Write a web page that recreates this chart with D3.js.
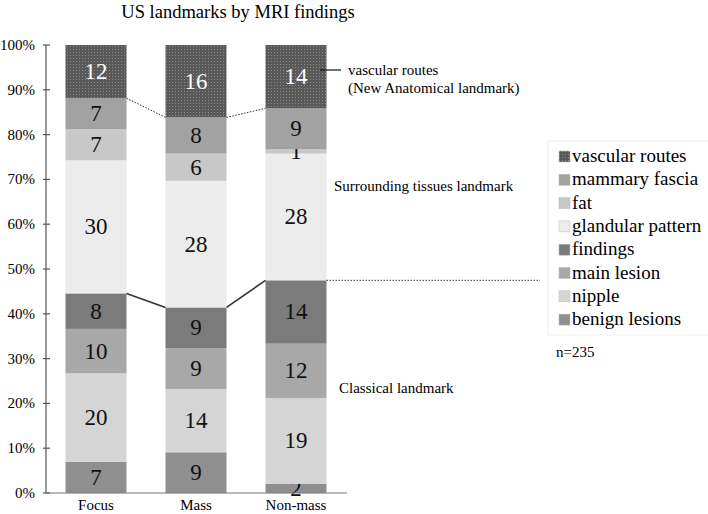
<!DOCTYPE html>
<html>
<head>
<meta charset="utf-8">
<script src="https://cdn.jsdelivr.net/npm/d3@7"></script>
<style>
  body { margin: 0; background: #fff; }
  svg text { font-family: "Liberation Serif", "Times New Roman", "DejaVu Serif", serif; }
</style>
</head>
<body>
<svg id="chart" width="708" height="514" font-family="Liberation Serif, serif"></svg>
<script>
// categories and series (bottom to top)
const categories = ["Focus", "Mass", "Non-mass"];
const seriesNames = ["benign lesions", "nipple", "main lesion", "findings",
                     "glandular pattern", "fat", "mammary fascia", "vascular routes"];
const benignLesions   = [7, 9, 2];
const nipple          = [20, 14, 19];
const mainLesion      = [10, 9, 12];
const findings        = [8, 9, 14];
const glandular       = [30, 28, 28];
const fat             = [7, 6, 1];
const mammaryFascia   = [7, 8, 9];
const vascularRoutes  = [12, 16, 14];
const yTicks = [0, 0.1, 0.2, 0.3, 0.4, 0.5, 0.6, 0.7, 0.8, 0.9, 1];

const seriesValues = [benignLesions, nipple, mainLesion, findings,
                      glandular, fat, mammaryFascia, vascularRoutes];
const colors = ["#8f8f8f", "#d5d5d5", "#a8a8a8", "#7b7b7b",
                "#ececec", "#c8c8c8", "#a2a2a2", "url(#dots)"];

const svg = d3.select("#chart");

// dotted texture for vascular routes
const pat = svg.append("defs").append("pattern")
    .attr("id", "dots").attr("patternUnits", "userSpaceOnUse")
    .attr("width", 3).attr("height", 3);
pat.append("rect").attr("width", 3).attr("height", 3).attr("fill", "#595959");
pat.append("rect").attr("x", 1).attr("y", 1).attr("width", 1).attr("height", 1).attr("fill", "#8c8c8c");

const table = categories.map((c, i) => {
    const row = { cat: c };
    let total = 0;
    seriesNames.forEach((s, k) => total += seriesValues[k][i]);
    seriesNames.forEach((s, k) => row[s] = seriesValues[k][i] / total);
    seriesNames.forEach((s, k) => row[s + "_n"] = seriesValues[k][i]);
    return row;
});
const stacked = d3.stack().keys(seriesNames)(table);

const x = d3.scaleBand().domain(categories).range([46, 346]).paddingInner(0.39).paddingOuter(0.195);
const y = d3.scaleLinear().domain([0, 1]).range([493, 45]);

// title
svg.append("text").attr("x", 238).attr("y", 18).attr("text-anchor", "middle")
    .attr("font-size", 18.5).text("US landmarks by MRI findings");

// bars
stacked.forEach((layer, k) => {
    svg.append("g").selectAll("rect")
        .data(layer)
        .enter()
        .append("rect")
        .attr("x", d => x(d.data.cat))
        .attr("y", d => y(d[1]))
        .attr("width", x.bandwidth())
        .attr("height", d => y(d[0]) - y(d[1]))
        .attr("fill", colors[k]);

    svg.append("g").selectAll("text")
        .data(layer)
        .enter()
        .append("text")
        .attr("x", d => x(d.data.cat) + x.bandwidth() / 2)
        .attr("y", d => (y(d[0]) + y(d[1])) / 2 + 7.5)
        .attr("text-anchor", "middle")
        .attr("font-size", 23)
        .attr("fill", k === 7 ? "#fff" : "#111")
        .text(d => d.data[layer.key + "_n"]);
});

// connector lines between bars
const connect = (key, dash) => {
    const layer = stacked.find(l => l.key === key);
    for (let i = 0; i < layer.length - 1; i++) {
        const a = layer[i], b = layer[i + 1];
        svg.append("line")
            .attr("x1", x(a.data.cat) + x.bandwidth()).attr("y1", y(a[1]))
            .attr("x2", x(b.data.cat)).attr("y2", y(b[1]))
            .attr("stroke", "#333").attr("stroke-width", dash ? 1 : 1.6)
            .attr("stroke-dasharray", dash ? "1.5,1.5" : null);
    }
};
connect("mammary fascia", true);
connect("findings", false);

// dotted line from non-mass findings toward legend
const nm = stacked.find(l => l.key === "findings")[2];
svg.append("line")
    .attr("x1", x("Non-mass") + x.bandwidth()).attr("y1", y(nm[1]))
    .attr("x2", 540).attr("y2", y(nm[1]))
    .attr("stroke", "#333").attr("stroke-dasharray", "1.5,1.5");

// axes
const yAxis = svg.append("g");
yAxis.append("line").attr("x1", 46).attr("x2", 46).attr("y1", y(1)).attr("y2", y(0))
    .attr("stroke", "#555").attr("stroke-width", 1.2);
yAxis.selectAll(".tick").data(yTicks).enter().append("line")
    .attr("x1", 43).attr("x2", 50).attr("y1", d => y(d)).attr("y2", d => y(d))
    .attr("stroke", "#555").attr("stroke-width", 1.2);
yAxis.selectAll("text").data(yTicks).enter().append("text")
    .attr("x", 35).attr("y", d => y(d) + 5).attr("text-anchor", "end")
    .attr("font-size", 15).text(d => d3.format(".0%")(d));

svg.append("line").attr("x1", 46).attr("x2", 347).attr("y1", y(0)).attr("y2", y(0))
    .attr("stroke", "#777").attr("stroke-width", 1.2);
svg.append("g").selectAll("text").data(categories).enter().append("text")
    .attr("x", d => x(d) + x.bandwidth() / 2).attr("y", 510)
    .attr("text-anchor", "middle").attr("font-size", 15).text(d => d);

// annotations
svg.append("line").attr("x1", 320).attr("x2", 341).attr("y1", 70).attr("y2", 70)
    .attr("stroke", "#111").attr("stroke-width", 1.2);
svg.append("text").attr("x", 348).attr("y", 75).attr("font-size", 15).text("vascular routes");
svg.append("text").attr("x", 348).attr("y", 93).attr("font-size", 15).text("(New Anatomical landmark)");
svg.append("text").attr("x", 334).attr("y", 191).attr("font-size", 15).text("Surrounding tissues landmark");
svg.append("text").attr("x", 339).attr("y", 393).attr("font-size", 15).text("Classical landmark");

// legend
const lg = svg.append("g");
lg.append("rect").attr("x", 548).attr("y", 141).attr("width", 170).attr("height", 194)
    .attr("fill", "#fff").attr("stroke", "#f0f0f0");
const legendOrder = seriesNames.slice().reverse();
legendOrder.forEach((s, i) => {
    const k = seriesNames.indexOf(s);
    const cy = 156 + i * 23.3;
    lg.append("rect").attr("x", 559).attr("y", cy - 5).attr("width", 11).attr("height", 11)
        .attr("fill", colors[k]).attr("stroke", "#bbb").attr("stroke-width", 0.5);
    lg.append("text").attr("x", 572).attr("y", cy + 6).attr("font-size", 19).text(s);
});
svg.append("text").attr("x", 556).attr("y", 357).attr("font-size", 15).text("n=235");
</script>
</body>
</html>
